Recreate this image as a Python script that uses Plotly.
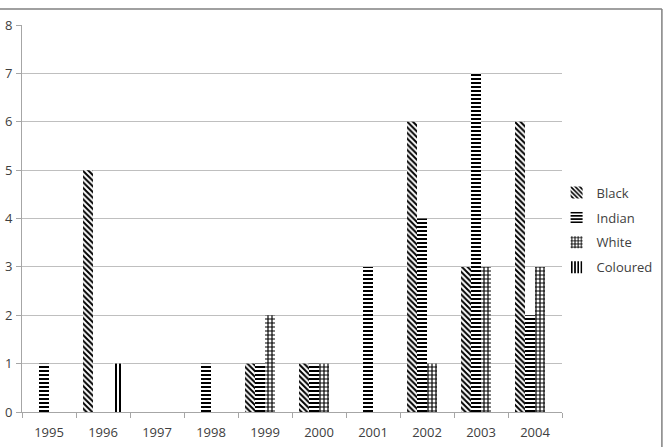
import plotly.graph_objects as go

years = ["1995", "1996", "1997", "1998", "1999", "2000", "2001", "2002", "2003", "2004"]
black = [0, 5, 0, 0, 1, 1, 0, 6, 3, 6]
indian = [1, 0, 0, 1, 1, 1, 3, 4, 7, 2]
white = [0, 0, 0, 0, 2, 1, 0, 1, 3, 3]
coloured = [0, 1, 0, 0, 0, 0, 0, 0, 0, 0]

series = [("Black", black, "\\"), ("Indian", indian, "-"), ("White", white, "+"), ("Coloured", coloured, "|")]

fig = go.Figure()
for i, (name, vals, shape) in enumerate(series):
    fig.add_trace(go.Bar(
        x=years, y=vals, name=name, legendgroup=name,
        marker=dict(color="white", line=dict(width=0),
                    pattern=dict(shape=shape, fgcolor="black", fgopacity=1, bgcolor="white", size=4, solidity=0.5)),
    ))

border = dict(color="#808080", width=1.5)
fig.update_layout(
    width=665, height=447,
    margin=dict(l=22, r=103, t=25, b=35, autoexpand=False),
    paper_bgcolor="white", plot_bgcolor="white",
    barmode="group", bargap=0.26, bargroupgap=0,
    font=dict(family="Open Sans", size=13, color="#404040"),
    legend=dict(x=0.99, y=0.47, xanchor="left", yanchor="middle", tracegroupgap=5,
                font=dict(size=13, color="#404040"), bgcolor="rgba(0,0,0,0)"),
    xaxis=dict(showline=True, linecolor="#a6a6a6", ticks="outside", ticklen=5, tickcolor="#a6a6a6",
               tickson="boundaries", showgrid=False, tickfont=dict(size=13), ticklabelstandoff=8),
    yaxis=dict(range=[0, 8], dtick=1, showline=True, linecolor="#a6a6a6", ticks="outside", ticklen=5,
               tickcolor="#a6a6a6", showgrid=True, gridcolor="#bfbfbf", gridwidth=1, zeroline=False,
               tickfont=dict(size=13), ticklabelstandoff=1),
    shapes=[
        dict(type="line", xref="paper", yref="paper", x0=-0.05, x1=1.185, y0=1.0413, y1=1.0413, line=border, layer="above"),
        dict(type="line", xref="paper", yref="paper", x0=1.185, x1=1.185, y0=-0.1, y1=1.0413, line=border, layer="above"),
    ],
)

fig.write_html("out.html")
